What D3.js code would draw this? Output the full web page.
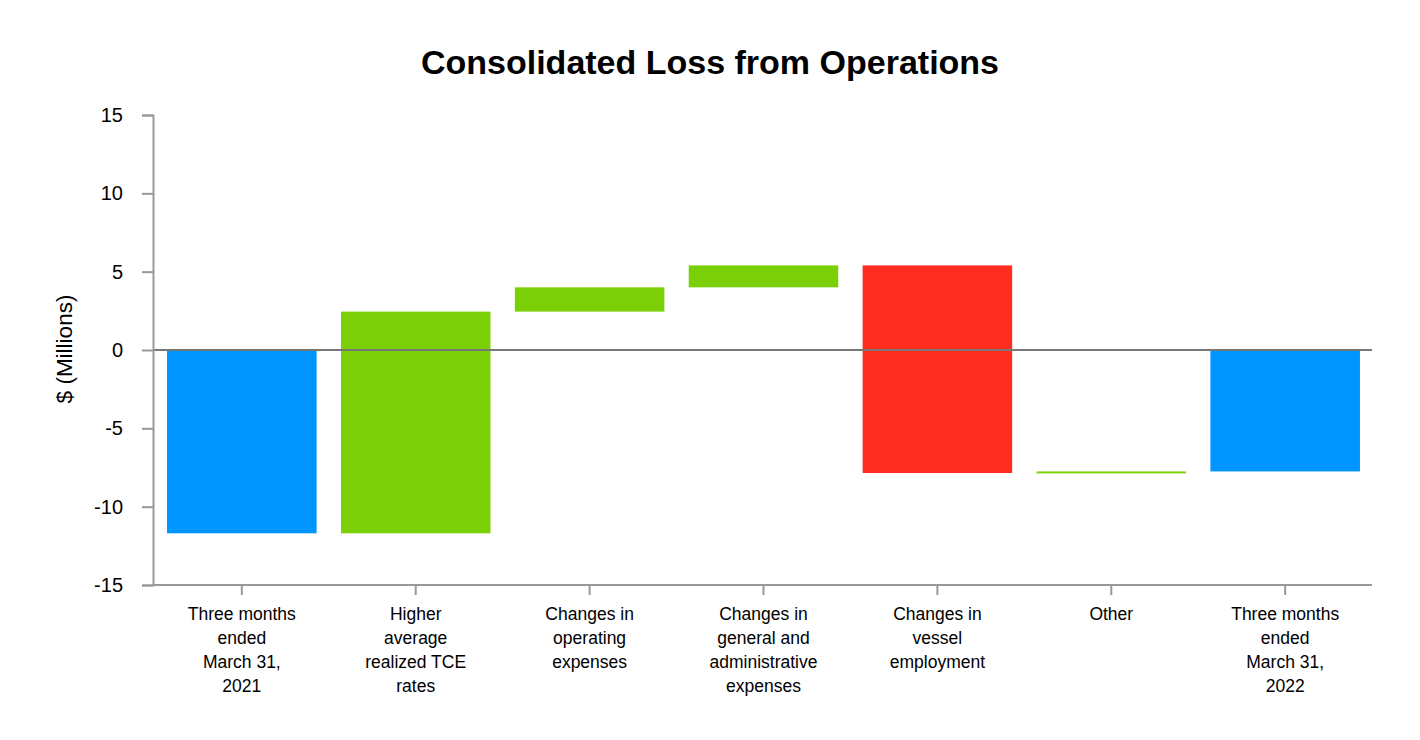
<!DOCTYPE html>
<html>
<head>
<meta charset="utf-8">
<script src="https://cdn.jsdelivr.net/npm/d3@7"></script>
<style>
  body { margin: 0; background: #fff; }
  text { font-family: "Liberation Sans", Arial, sans-serif; }
</style>
</head>
<body>
<svg id="chart" width="1420" height="740"></svg>
<script>
const categories = [
  "Three months ended March 31, 2021",
  "Higher average realized TCE rates",
  "Changes in operating expenses",
  "Changes in general and administrative expenses",
  "Changes in vessel employment",
  "Other",
  "Three months ended March 31, 2022"
];
const labelLines = [
  ["Three months", "ended", "March 31,", "2021"],
  ["Higher", "average", "realized TCE", "rates"],
  ["Changes in", "operating", "expenses"],
  ["Changes in", "general and", "administrative", "expenses"],
  ["Changes in", "vessel", "employment"],
  ["Other"],
  ["Three months", "ended", "March 31,", "2022"]
];
const kinds = ["total", "delta", "delta", "delta", "delta", "delta", "total"];
const values = [-11.7, 14.15, 1.55, 1.4, -13.25, 0.1, -7.75];
const yTicks = [-15, -10, -5, 0, 5, 10, 15];

const colors = { total: "#0094FF", up: "#7BCF06", down: "#FF2D1F" };

(function () {
let running = 0;
const bars = categories.map((c, i) => {
  let y0, y1, type;
  if (kinds[i] === "total") {
    y0 = 0; y1 = values[i]; running = values[i]; type = "total";
  } else {
    y0 = running; y1 = running + values[i]; running = y1;
    type = values[i] >= 0 ? "up" : "down";
  }
  return { cat: c, y0, y1, type, i };
});

const svg = d3.select("#chart");
const mLeft = 153, mRight = 1372, mTop = 115, mBottom = 585;

const x = d3.scaleBand().domain(categories).range([mLeft + 1, mRight + 1]).paddingInner(0.14).paddingOuter(0.075);
const y = d3.scaleLinear().domain([-15, 15]).range([mBottom, mTop]);

svg.append("text")
  .attr("x", 710).attr("y", 74)
  .attr("text-anchor", "middle")
  .style("font-size", "34px").style("font-weight", "bold")
  .text("Consolidated Loss from Operations");

svg.append("text")
  .attr("transform", `translate(72,349) rotate(-90)`)
  .attr("text-anchor", "middle")
  .style("font-size", "22.5px")
  .text("$ (Millions)");

svg.append("g").selectAll("rect").data(bars).join("rect")
  .attr("x", d => x(d.cat))
  .attr("width", x.bandwidth())
  .attr("y", d => y(Math.max(d.y0, d.y1)))
  .attr("height", d => Math.max(2, Math.abs(y(d.y0) - y(d.y1))))
  .attr("fill", d => colors[d.type]);

svg.append("line")
  .attr("x1", mLeft).attr("x2", mRight)
  .attr("y1", y(0)).attr("y2", y(0))
  .attr("stroke", "#777").attr("stroke-width", 2);

const yAxis = d3.axisLeft(y).tickValues(yTicks).tickSize(11).tickPadding(19)
  .tickFormat(d => String(d));
const gy = svg.append("g").attr("transform", `translate(${mLeft},0)`).call(yAxis);
gy.select(".domain").attr("stroke", "#999").attr("stroke-width", 2);
gy.selectAll(".tick line").attr("stroke", "#999").attr("stroke-width", 2);
gy.selectAll(".tick text").style("font-size", "20px").attr("fill", "#000")
  .style("font-family", "'Liberation Sans', Arial, sans-serif");

const xAxis = d3.axisBottom(x).tickSize(10).tickFormat("");
const gx = svg.append("g").attr("transform", `translate(0,${mBottom})`).call(xAxis);
gx.select(".domain").attr("stroke", "#999").attr("stroke-width", 2).attr("d", `M${mLeft},0H${mRight}`);
gx.selectAll(".tick line").attr("stroke", "#999").attr("stroke-width", 2);

gx.selectAll(".tick").each(function(d, i) {
  const t = d3.select(this).append("text")
    .attr("text-anchor", "middle")
    .attr("fill", "#000")
    .style("font-size", "17.5px")
    .style("font-family", "'Liberation Sans', Arial, sans-serif");
  labelLines[i].forEach((ln, k) => {
    t.append("tspan").attr("x", 0).attr("y", 35 + k * 24).text(ln);
  });
});
})();
</script>
</body>
</html>
